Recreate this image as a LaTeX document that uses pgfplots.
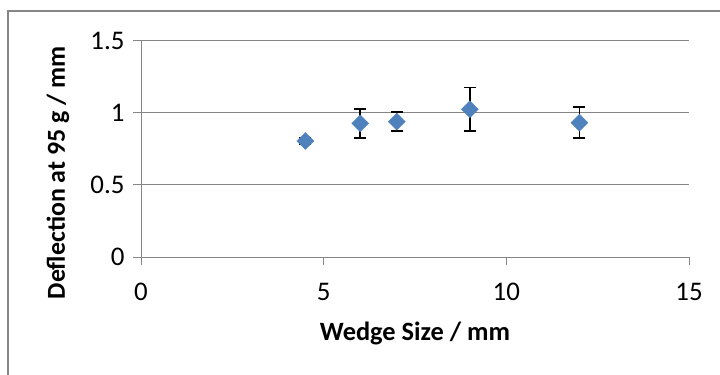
\documentclass[border=0pt]{standalone}
\usepackage{fontspec}
\setmainfont{Carlito}
\usepackage{pgfplots}
\pgfplotsset{compat=1.18}
\definecolor{gridgray}{HTML}{868686}
\definecolor{markblue}{HTML}{4F81BD}
\begin{document}
\begin{tikzpicture}
\useasboundingbox (0,0) rectangle (720bp,375bp);
\draw[gridgray, line width=1.2bp] (8bp,0) -- (8bp,364bp) -- (720bp,364bp);
\begin{axis}[
  at={(141bp,118bp)}, anchor=south west,
  scale only axis, width=548bp, height=216bp,
  xmin=0, xmax=15, ymin=0, ymax=1.5,
  xtick={0,5,10,15}, ytick={0,0.5,1,1.5},
  axis x line=bottom, axis y line=left,
  axis line style={gridgray, line width=1bp, -},
  tick style={gridgray, line width=1bp},
  tick align=outside, major tick length=8bp,
  ymajorgrids, major grid style={gridgray, line width=1bp},
  /pgf/number format/assume math mode=true,
  ticklabel style={font=\fontsize{27}{30}\selectfont},
  xticklabel style={yshift=-15bp},
  yticklabel style={xshift=-5bp},
  xlabel={Wedge Size / mm},
  ylabel={Deflection at 95 g / mm},
  every axis x label/.style={at={(axis description cs:0.5,-0.355)}, anchor=center, font=\fontsize{26.5}{30}\selectfont\bfseries},
  every axis y label/.style={at={(axis description cs:-0.1515,0.39)}, anchor=center, rotate=90, font=\fontsize{26}{30}\selectfont\bfseries},
  clip=false,
]
\addplot[only marks, mark=square*, mark size=6bp,
  mark options={rotate=45, fill=markblue, draw=markblue},
  error bars/.cd, y dir=both, y explicit,
  error bar style={black, line width=1.5bp},
  error mark options={black, line width=1.5bp, mark size=6bp, rotate=90}]
coordinates {
  (4.5,0.806) +- (0,0.02)
  (6,0.928) +- (0,0.10)
  (7,0.94) +- (0,0.066)
  (9,1.026) +- (0,0.15)
  (12,0.933) +- (0,0.107)
};
\end{axis}
\end{tikzpicture}
\end{document}
